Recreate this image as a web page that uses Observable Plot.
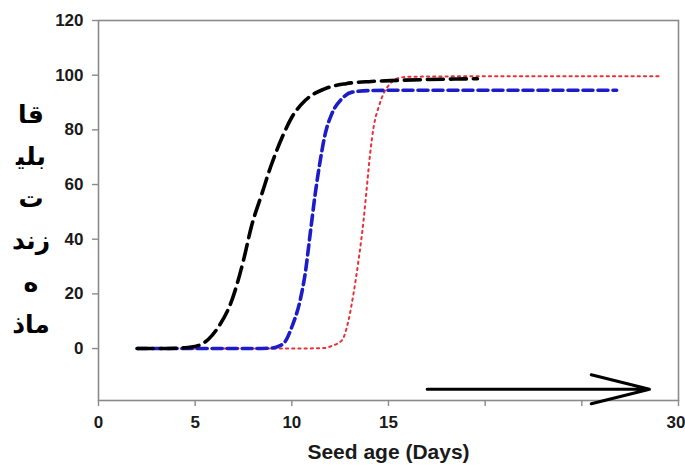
<!DOCTYPE html>
<html>
<head>
<meta charset="utf-8">
<script src="https://cdn.jsdelivr.net/npm/d3@7"></script>
<script src="https://cdn.jsdelivr.net/npm/@observablehq/plot@0.6"></script>
<style>
  html, body { margin: 0; padding: 0; background: #fff; }
  #wrap { position: relative; width: 685px; height: 471px; }
  #ylab { position: absolute; left: 1px; top: 94px; width: 60px; text-align: center;
          font-family: "DejaVu Sans", sans-serif; font-weight: bold; font-size: 25px;
          line-height: 42px; color: #000; direction: rtl; }
</style>
</head>
<body>
<div id="wrap"><div id="ylab"></div></div>
<script>
// Seed age (days) and viability (%)
const blackX = [2, 3, 4, 4.6, 5.2, 5.7, 6.2, 6.9, 7.5, 7.9, 8.45, 8.9, 9.5, 10, 10.7, 11.7, 12.8, 14.1, 15.5, 17, 18.5, 19.6];
const blackY = [0, 0, 0.1, 0.4, 1.2, 3.5, 7.9, 17.7, 32.3, 44.4, 56.6, 66.4, 77.3, 84.6, 90.8, 95, 96.9, 97.7, 98.1, 98.4, 98.6, 98.7];

const blueX = [2, 4, 6, 8, 9, 9.3, 9.65, 10, 10.43, 10.69, 10.95, 11.21, 11.47, 11.73, 12.07, 12.59, 13.11, 14.14, 16, 20, 26.8];
const blueY = [0, 0, 0, 0, 0.2, 0.8, 2.5, 7.9, 17.7, 27.4, 42, 56.6, 68.8, 78.6, 85.9, 91.4, 93.8, 94.4, 94.5, 94.5, 94.5];

const redX = [2, 6, 10, 11.7, 12.07, 12.59, 12.93, 13.19, 13.45, 13.71, 13.88, 14.05, 14.23, 14.49, 14.74, 15, 15.4, 16, 20, 29];
const redY = [0, 0, 0, 0.2, 1, 3, 10.3, 20.1, 32.3, 46.9, 59.1, 71.3, 81, 88.3, 93.2, 96.2, 98.6, 99.4, 99.6, 99.6];

const arrowFrom = {x: 17.0, y: -14.9};
const arrowTo = {x: 28.5, y: -14.9};

const xTicks = [0, 5, 10, 15, 20, 25, 30];
const xTickLabels = ["0", "5", "10", "15", "", "", ""];
const lastTick = [30];
const lastTickLabel = ["30"];
const yTicks = [0, 20, 40, 60, 80, 100, 120];
const xLabel = "Seed age (Days)";
const yLabelLines = ["قا", "بلی\u200D", "ت", "زند", "ه", "ماذ"];

const toRows = (xs, ys) => xs.map((x, i) => ({x, y: ys[i]}));
const black = toRows(blackX, blackY);
const blue = toRows(blueX, blueY);
const red = toRows(redX, redY);

const chart = Plot.plot({
  width: 685,
  height: 471,
  marginLeft: 98,
  marginRight: 7,
  marginTop: 20,
  marginBottom: 71,
  style: {fontFamily: "'Liberation Sans', Arial, sans-serif", fontWeight: "bold", fontSize: "17px", color: "#1a1a1a", background: "#fff"},
  x: {domain: [0, 30]},
  y: {domain: [-19, 120]},
  marks: [
    Plot.frame({stroke: "#8a8a8a", strokeWidth: 1.6}),
    Plot.axisY({ticks: yTicks, tickSize: 6, tickPadding: 9, label: null, stroke: "#8a8a8a", strokeWidth: 1.4, fontSize: 17}),
    Plot.axisX({ticks: xTicks, tickSize: 6, tickPadding: 9, label: null, stroke: "#8a8a8a", strokeWidth: 1.4, fontSize: 17,
                tickFormat: d => xTickLabels[xTicks.indexOf(d)]}),
    Plot.axisX({ticks: lastTick, tickSize: 0, tickPadding: 15, label: null, fontSize: 17, textAnchor: "end", dx: 7,
                tickFormat: d => lastTickLabel[lastTick.indexOf(d)]}),
    Plot.line(red, {x: "x", y: "y", stroke: "#e8303a", strokeWidth: 2, strokeDasharray: "2.2,4", curve: "monotone-x"}),
    Plot.line(blue, {x: "x", y: "y", stroke: "#1c1cc8", strokeWidth: 3.6, strokeDasharray: "10,5", curve: "monotone-x"}),
    Plot.line(black, {x: "x", y: "y", stroke: "#000", strokeWidth: 3.6, strokeDasharray: "16,7", curve: "monotone-x"}),
    Plot.arrow([{x1: arrowFrom.x, y1: arrowFrom.y, x2: arrowTo.x, y2: arrowTo.y}],
               {x1: "x1", y1: "y1", x2: "x2", y2: "y2", stroke: "#000", strokeWidth: 3, headAngle: 28, headLength: 30}),
    Plot.text([xLabel], {frameAnchor: "bottom", dy: 58, fontSize: 21, fontWeight: "bold", fill: "#1a1a1a"})
  ]
});
document.getElementById("wrap").prepend(chart);
document.getElementById("ylab").innerHTML = yLabelLines.map(s => `<div>${s}</div>`).join("");
</script>
</body>
</html>
